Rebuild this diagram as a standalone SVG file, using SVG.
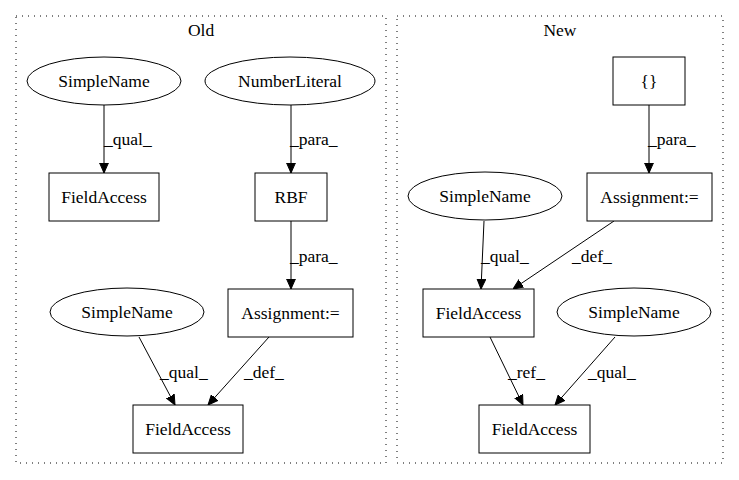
<svg xmlns="http://www.w3.org/2000/svg" width="739" height="480" viewBox="0 0 739 480">
<defs>
<marker id="arr" markerUnits="userSpaceOnUse" markerWidth="10" markerHeight="10" viewBox="0 0 10 10" refX="10" refY="5" orient="auto">
<path d="M0,0.6 L10,5 L0,9.4 Z" fill="#000" stroke="#000" stroke-width="1"/>
</marker>
<style>
text{font-family:"Liberation Serif","Times New Roman",serif;font-size:17.5px;fill:#000}
.n{text-anchor:middle}
.box{fill:#fff;stroke:#000;stroke-width:1}
.cl{fill:none;stroke:#000;stroke-width:1;stroke-dasharray:1,5}
.e{fill:none;stroke:#000;stroke-width:1;marker-end:url(#arr)}
</style>
</defs>
<rect width="739" height="480" fill="#fff"/>
<g id="cluster_old">
<rect class="cl" x="16" y="16" width="370" height="447"/>
<text class="n" x="201" y="36">Old</text>
</g>
<g id="cluster_new">
<rect class="cl" x="397" y="16" width="326" height="447"/>
<text class="n" x="560" y="36">New</text>
</g>
<g id="edges">
<path class="e" d="M104,105 L104,173"/>
<text x="104" y="145">_qual_</text>
<path class="e" d="M291,105 L291,173"/>
<text x="290" y="145">_para_</text>
<path class="e" d="M291,221 L291,289"/>
<text x="290" y="262">_para_</text>
<path class="e" d="M139,337 L175,405"/>
<text x="160" y="378">_qual_</text>
<path class="e" d="M269,337 L208,405"/>
<text x="244" y="378">_def_</text>
<path class="e" d="M649,105 L649,173"/>
<text x="648" y="145">_para_</text>
<path class="e" d="M484,221 L481,289"/>
<text x="481" y="262">_qual_</text>
<path class="e" d="M614,221 L513,289"/>
<text x="572" y="262">_def_</text>
<path class="e" d="M490,337 L523,405"/>
<text x="508" y="378">_ref_</text>
<path class="e" d="M615,337 L555,405"/>
<text x="588" y="378">_qual_</text>
</g>
<g id="old_simplename1"><ellipse class="box" cx="104" cy="81" rx="77" ry="24"/><text class="n" x="104" y="87">SimpleName</text></g>
<g id="old_numberliteral"><ellipse class="box" cx="290" cy="81" rx="85" ry="24"/><text class="n" x="290" y="87">NumberLiteral</text></g>
<g id="old_fieldaccess1"><rect class="box" x="49" y="173" width="110" height="48"/><text class="n" x="104" y="203">FieldAccess</text></g>
<g id="old_rbf"><rect class="box" x="255" y="173" width="72" height="48"/><text class="n" x="291" y="203">RBF</text></g>
<g id="old_assignment"><rect class="box" x="228" y="289" width="125" height="48"/><text class="n" x="290.5" y="319">Assignment:=</text></g>
<g id="old_simplename2"><ellipse class="box" cx="127" cy="312" rx="77" ry="24"/><text class="n" x="127" y="318">SimpleName</text></g>
<g id="old_fieldaccess2"><rect class="box" x="133" y="405" width="110" height="48"/><text class="n" x="188" y="435">FieldAccess</text></g>
<g id="new_braces"><rect class="box" x="613" y="57" width="72" height="48"/><text class="n" x="649" y="87">{}</text></g>
<g id="new_assignment"><rect class="box" x="587" y="173" width="125" height="48"/><text class="n" x="649.5" y="203">Assignment:=</text></g>
<g id="new_simplename1"><ellipse class="box" cx="485" cy="196" rx="77" ry="24"/><text class="n" x="485" y="202">SimpleName</text></g>
<g id="new_fieldaccess1"><rect class="box" x="423" y="289" width="111" height="48"/><text class="n" x="478.5" y="319">FieldAccess</text></g>
<g id="new_simplename2"><ellipse class="box" cx="634" cy="312" rx="77" ry="24"/><text class="n" x="634" y="318">SimpleName</text></g>
<g id="new_fieldaccess2"><rect class="box" x="479" y="405" width="111" height="48"/><text class="n" x="534.5" y="435">FieldAccess</text></g>
</svg>
